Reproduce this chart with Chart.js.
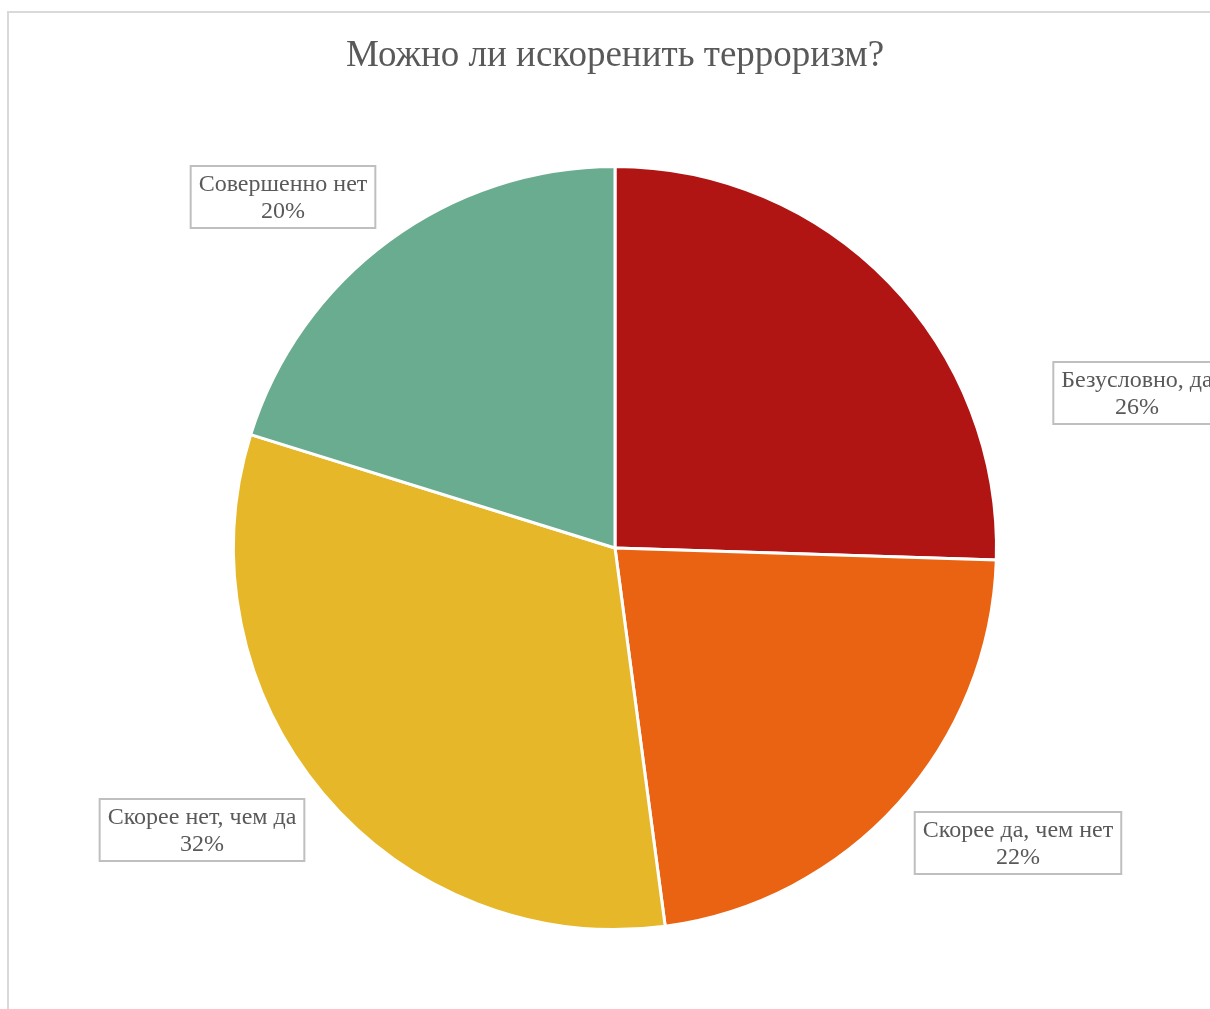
<!DOCTYPE html>
<html>
<head>
<meta charset="utf-8">
<script src="https://cdn.jsdelivr.net/npm/chart.js@4/dist/chart.umd.min.js"></script>
<style>
  html, body { margin: 0; padding: 0; background: #fff; overflow: hidden; }
  #frame { position: absolute; left: 7px; top: 11px; width: 1260px; height: 1060px; border: 2px solid #d9d9d9; }
  #pie { position: absolute; left: 0; top: 0; }
</style>
</head>
<body>
<div id="frame"></div>
<canvas id="pie" width="1210" height="1009"></canvas>
<script>
// data
const categories = ["Безусловно, да", "Скорее да, чем нет", "Скорее нет, чем да", "Совершенно нет"];
const shares = [25.5, 22.4, 31.9, 20.2];          // slice sizes
const percentLabels = ["26%", "22%", "32%", "20%"]; // labels as printed
const sliceColors = ["#B01513", "#EA6312", "#E6B729", "#6AAC90"];
// label box centres, offset from pie centre (px)
const labelOffsets = [[522, -155], [403, 295], [-413, 282], [-332, -351]];

const labelBoxes = {
    id: 'labelBoxes',
    afterDatasetsDraw(chart) {
        const ctx = chart.ctx;
        const arc = chart.getDatasetMeta(0).data[0];
        const cx = arc.x, cy = arc.y;
        ctx.save();
        ctx.font = '24px "Liberation Serif", "Times New Roman", serif';
        ctx.textAlign = 'center';
        ctx.textBaseline = 'middle';
        categories.forEach((name, i) => {
            const x = cx + labelOffsets[i][0];
            const y = cy + labelOffsets[i][1];
            const pct = percentLabels[i];
            const w = Math.max(ctx.measureText(name).width, ctx.measureText(pct).width) + 16;
            const h = 62;
            ctx.fillStyle = '#ffffff';
            ctx.fillRect(x - w / 2, y - h / 2, w, h);
            ctx.strokeStyle = '#bfbfbf';
            ctx.lineWidth = 2;
            ctx.strokeRect(x - w / 2, y - h / 2, w, h);
            ctx.fillStyle = '#595959';
            ctx.fillText(name, x, y - 12);
            ctx.fillText(pct, x, y + 15);
        });
        ctx.restore();
    }
};

const pieCtx = document.getElementById('pie').getContext('2d');
const pie = new Chart(pieCtx, {
    type: 'pie',
    data: {
        labels: categories,
        datasets: [{
            data: shares,
            backgroundColor: sliceColors,
            borderColor: '#ffffff',
            borderWidth: 3
        }]
    },
    options: {
        responsive: false,
        animation: false,
        layout: { padding: { left: 232, right: 212, top: 0, bottom: 78 } },
        plugins: {
            legend: { display: false },
            tooltip: { enabled: false },
            title: {
                display: true,
                text: 'Можно ли искоренить терроризм?',
                color: '#595959',
                font: { family: '"Liberation Serif", "Times New Roman", serif', size: 37, weight: 'normal', lineHeight: 1.2 },
                padding: { top: 34, bottom: 86.6 }
            }
        }
    },
    plugins: [labelBoxes]
});
</script>
</body>
</html>
